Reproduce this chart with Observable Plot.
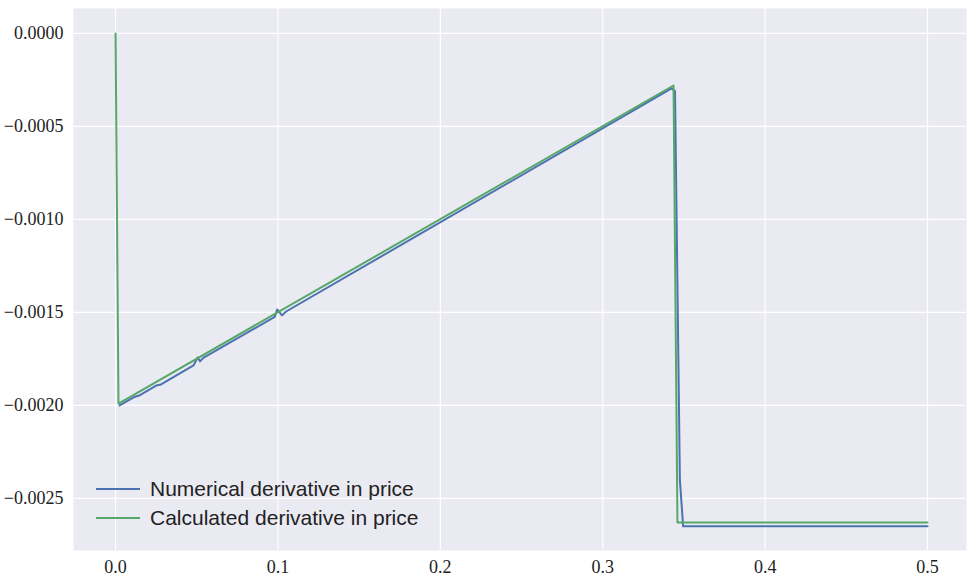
<!DOCTYPE html>
<html>
<head>
<meta charset="utf-8">
<script src="https://cdn.jsdelivr.net/npm/d3@7"></script>
<script src="https://cdn.jsdelivr.net/npm/@observablehq/plot@0.6"></script>
<style>
  body { margin: 0; background: #fff; }
  #chart { position: relative; width: 974px; height: 583px; }
  .legend { position: absolute; left: 96px; top: 474px; font-family: "Liberation Sans", sans-serif; font-size: 21px; color: #222; }
  .legend div { display: flex; align-items: center; height: 29px; }
  .legend span.sw { display: inline-block; width: 44px; height: 2px; margin-right: 10px; }
</style>
</head>
<body>
<div id="chart"></div>
<script>
// numerical derivative (blue)
const numX = [0.0025, 0.012, 0.015, 0.025, 0.028, 0.048, 0.0505, 0.052, 0.054, 0.098, 0.0995, 0.1025, 0.105, 0.3424, 0.3445, 0.3475, 0.3495, 0.5];
const numY = [-0.00200, -0.001953, -0.001945, -0.001893, -0.001887, -0.001785, -0.001742, -0.001763, -0.001745, -0.001524, -0.001484, -0.001516, -0.001495, -0.000296, -0.00031, -0.00240, -0.00265, -0.00265];
// calculated derivative (green)
const calcX = [0, 0.0018, 0.3436, 0.346, 0.5];
const calcY = [0, -0.00199, -0.00028, -0.00263, -0.00263];
const xTicks = [0, 0.1, 0.2, 0.3, 0.4, 0.5];
const yTicks = [0, -0.0005, -0.001, -0.0015, -0.002, -0.0025];

const numerical = numX.map((x, i) => ({x, y: numY[i]}));
const calculated = calcX.map((x, i) => ({x, y: calcY[i]}));

const chart = Plot.plot({
  width: 974, height: 583,
  marginLeft: 73, marginRight: 8, marginTop: 8, marginBottom: 33,
  style: { fontFamily: "'Liberation Serif', serif", fontSize: "18px", color: "#222", background: "#fff" },
  x: { domain: [-0.0259, 0.524], ticks: xTicks, tickFormat: d3.format(".1f"), label: null, tickSize: 0, tickPadding: 10 },
  y: { domain: [-0.00278, 0.000134], ticks: yTicks, tickFormat: d3.format(".4f"), label: null, tickSize: 0, tickPadding: 10 },
  marks: [
    Plot.frame({ fill: "#EAEAF2", stroke: null }),
    Plot.gridX(xTicks, { stroke: "#fff", strokeOpacity: 1, strokeWidth: 1.2 }),
    Plot.gridY(yTicks, { stroke: "#fff", strokeOpacity: 1, strokeWidth: 1.2 }),
    Plot.line(numerical, { x: "x", y: "y", stroke: "#4C72B0", strokeWidth: 2 }),
    Plot.line(calculated, { x: "x", y: "y", stroke: "#55A868", strokeWidth: 2 })
  ]
});
document.getElementById("chart").append(chart);
const leg = document.createElement("div");
leg.className = "legend";
leg.innerHTML = '<div><span class="sw" style="background:#4C72B0"></span>Numerical derivative in price</div>' +
                '<div><span class="sw" style="background:#55A868"></span>Calculated derivative in price</div>';
document.getElementById("chart").append(leg);
</script>
</body>
</html>
